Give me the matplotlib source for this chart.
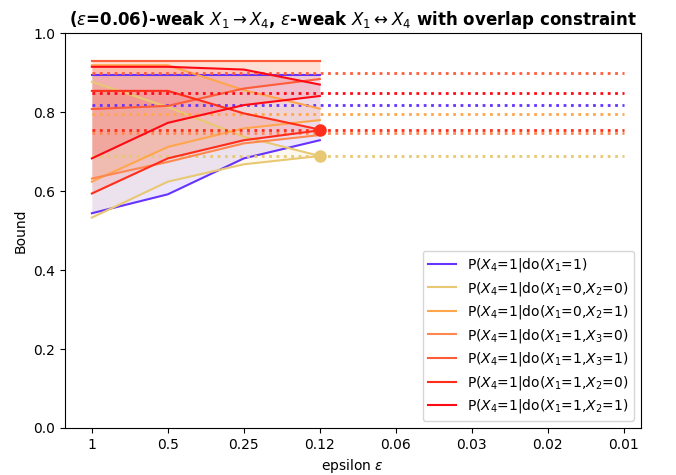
import matplotlib
matplotlib.use('Agg')
import matplotlib.pyplot as plt

# epsilon values on the x axis (categorical)
eps_labels = ['1', '0.5', '0.25', '0.12', '0.06', '0.03', '0.02', '0.01']
eps_run = [0, 1, 2, 3]  # bounds only computed for the first four

labels = [
    'P($X_4$=1|do($X_1$=1)',
    'P($X_4$=1|do($X_1$=0,$X_2$=0)',
    'P($X_4$=1|do($X_1$=0,$X_2$=1)',
    'P($X_4$=1|do($X_1$=1,$X_3$=0)',
    'P($X_4$=1|do($X_1$=1,$X_3$=1)',
    'P($X_4$=1|do($X_1$=1,$X_2$=0)',
    'P($X_4$=1|do($X_1$=1,$X_2$=1)',
]
colors = ['#6633ff', '#e8c872', '#ffa64d', '#ff8850', '#ff5c3a', '#ff2d1a', '#ff0a14']

upper = [
    [0.894, 0.894, 0.894, 0.894],
    [0.877, 0.813, 0.738, 0.689],
    [0.919, 0.919, 0.856, 0.809],
    [0.929, 0.929, 0.929, 0.929],
    [0.929, 0.929, 0.929, 0.929],
    [0.854, 0.854, 0.797, 0.756],
    [0.915, 0.915, 0.908, 0.870],
]
lower = [
    [0.544, 0.592, 0.683, 0.729],
    [0.533, 0.624, 0.668, 0.689],
    [0.624, 0.712, 0.759, 0.780],
    [0.632, 0.674, 0.721, 0.742],
    [0.808, 0.816, 0.860, 0.884],
    [0.594, 0.683, 0.729, 0.754],
    [0.683, 0.773, 0.818, 0.841],
]
# true values (dotted reference lines)
truth = [0.819, 0.690, 0.796, 0.748, 0.899, 0.755, 0.848]
# series whose bounds meet at the last computed epsilon
point_id = [1, 5]

fig, ax = plt.subplots(figsize=(6.76, 4.75), dpi=100)
fig.subplots_adjust(left=0.096, right=0.948, top=0.93, bottom=0.099)

for i in range(len(labels)):
    c = colors[i]
    ax.plot(eps_run, upper[i], color=c, lw=1.5, label=labels[i])
    ax.plot(eps_run, lower[i], color=c, lw=1.5)
    ax.fill_between(eps_run, lower[i], upper[i], color=c, alpha=0.12, lw=0)
    ax.plot([0, len(eps_labels) - 1], [truth[i], truth[i]], color=c, ls=':', lw=2)
    if i in point_id:
        ax.plot(eps_run[-1], upper[i][-1], 'o', color=c, markersize=8)

ax.set_xticks(range(len(eps_labels)))
ax.set_xticklabels(eps_labels)
ax.set_xlim(-0.355, 7.225)
ax.set_ylim(0, 1)
ax.set_xlabel('epsilon $\\epsilon$')
ax.set_ylabel('Bound')
ax.set_title('($\\epsilon$=0.06)-weak $X_1\\rightarrow X_4$, $\\epsilon$-weak $X_1\\leftrightarrow X_4$ with overlap constraint',
             fontweight='bold', fontsize=12)
ax.legend(loc='lower right', labelspacing=0.4)

plt.savefig('out.png', dpi=100)
